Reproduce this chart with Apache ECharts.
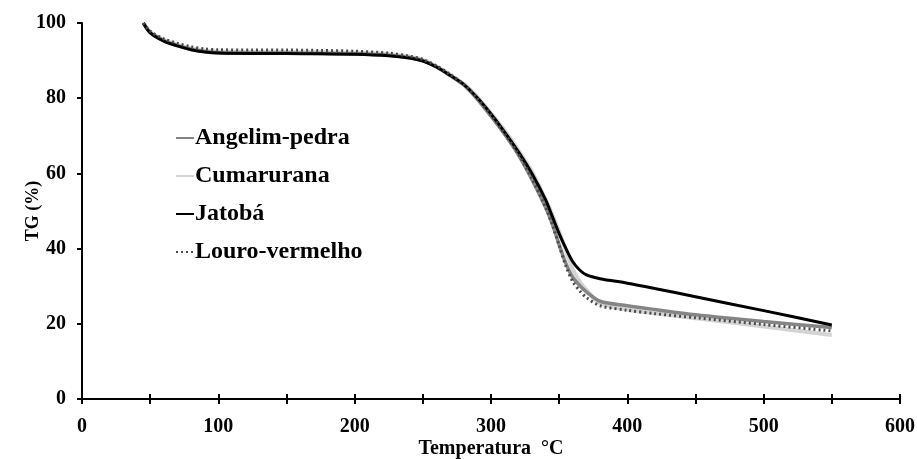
<!DOCTYPE html>
<html>
<head>
<meta charset="utf-8">
<script src="https://cdn.jsdelivr.net/npm/echarts@6/dist/echarts.min.js"></script>
<style>
  html, body { margin: 0; padding: 0; background: #fff; }
  #main { width: 917px; height: 459px; }
</style>
</head>
<body>
<div id="main"></div>
<script>
var temps = [45, 50, 60, 70, 80, 90, 100, 125, 150, 175, 200, 225, 240, 250, 260, 270, 280, 290, 300, 310, 320, 330, 340, 345, 350, 355, 360, 365, 370, 380, 400, 420, 450, 500, 550];

// TG (%) per wood
var angelim = [100, 97.5, 95.3, 94, 93, 92.4, 92.1, 92, 92, 91.9, 91.8, 91.4, 90.8, 90, 88.3, 86, 83.5, 79.7, 75.2, 70.4, 65, 58.4, 51, 46.5, 41, 36, 32.3, 30.2, 28.5, 26, 24.8, 23.8, 22.4, 20.6, 19];
var cumarurana = [100, 97.6, 95.5, 94.2, 93.2, 92.6, 92.4, 92.3, 92.3, 92.2, 92.1, 91.7, 91, 90.2, 88.5, 86.3, 83.8, 80.3, 76, 71.4, 66.2, 60.5, 53, 49, 44.5, 39.5, 34.5, 31.3, 29, 25.5, 23.8, 22.8, 21.5, 19.3, 17];
var jatoba = [100, 97.4, 95.2, 93.9, 92.9, 92.3, 92, 91.9, 91.9, 91.8, 91.7, 91.3, 90.7, 89.9, 88.3, 86.1, 83.7, 80.1, 75.8, 71, 65.8, 60, 53, 48.5, 44, 40, 36.5, 34.3, 33, 32, 30.8, 29.4, 27.2, 23.5, 19.7];
var louro = [100, 97.8, 95.8, 94.6, 93.7, 93.1, 92.9, 92.8, 92.8, 92.7, 92.5, 92, 91.2, 90.3, 88.6, 86.3, 83.7, 80, 75.5, 70.6, 65.2, 58.6, 51, 46.3, 40.8, 35.3, 31.2, 28.8, 27, 24.8, 23.6, 22.7, 21.6, 19.8, 18.1];

var xTicks = [0, 100, 200, 300, 400, 500, 600];

function pairs(vals) {
  return temps.map(function (t, i) { return [t, vals[i]]; });
}

var font = '"Liberation Serif", "Times New Roman", serif';
var chart = echarts.init(document.getElementById('main'));

function mkSeries(name, vals, color, width, type) {
  return {
    name: name,
    type: 'line',
    data: pairs(vals),
    smooth: 0.3,
    symbol: 'none',
    lineStyle: { color: color, width: width, type: type || 'solid' },
    itemStyle: { color: color }
  };
}

var option = {
  backgroundColor: '#fff',
  animation: false,
  grid: { left: 82, right: 17, top: 23, bottom: 60, outerBoundsMode: 'none', containLabel: false },
  legend: {
    orient: 'vertical',
    left: 170,
    top: 121,
    itemWidth: 18,
    itemHeight: 14,
    itemGap: 14,
    itemStyle: { opacity: 0 },
    textStyle: { fontFamily: font, fontWeight: 'bold', fontSize: 24, color: '#000', padding: [0, 0, 0, -4] },
    data: ['Angelim-pedra', 'Cumarurana', 'Jatobá', 'Louro-vermelho']
  },
  xAxis: [{
    type: 'value',
    min: 0, max: 600, interval: 50,
    name: 'Temperatura  °C',
    nameLocation: 'middle',
    nameGap: 40,
    nameMoveOverlap: false,
    nameTextStyle: { fontFamily: font, fontWeight: 'bold', fontSize: 20, color: '#000' },
    splitLine: { show: false },
    axisLine: { lineStyle: { color: '#000', width: 2 } },
    axisTick: { length: 5, lineStyle: { color: '#000', width: 2 } },
    axisLabel: {
      margin: 18,
      fontFamily: font, fontWeight: 'bold', fontSize: 20, color: '#000',
      formatter: function (v) { return xTicks.indexOf(v) >= 0 ? String(v) : ''; }
    }
  }, {
    type: 'value',
    min: 0, max: 600, interval: 50,
    position: 'bottom',
    splitLine: { show: false },
    axisLine: { show: false },
    axisTick: { inside: true, length: 5, lineStyle: { color: '#000', width: 2 } },
    axisLabel: { show: false }
  }],
  yAxis: {
    type: 'value',
    min: 0, max: 100, interval: 20,
    name: 'TG (%)',
    nameLocation: 'middle',
    nameGap: 40,
    nameMoveOverlap: false,
    nameTextStyle: { fontFamily: font, fontWeight: 'bold', fontSize: 18, color: '#000' },
    splitLine: { show: false },
    axisLine: { show: true, lineStyle: { color: '#000', width: 2 } },
    axisTick: { show: true, length: 5, lineStyle: { color: '#000', width: 2 } },
    axisLabel: { margin: 16, fontFamily: font, fontWeight: 'bold', fontSize: 20, color: '#000' }
  },
  series: [
    mkSeries('Cumarurana', cumarurana, '#d4d4d4', 4),
    mkSeries('Angelim-pedra', angelim, '#858585', 3.5),
    mkSeries('Jatobá', jatoba, '#000000', 3),
    mkSeries('Louro-vermelho', louro, '#4a4a4a', 3, [2, 3])
  ]
};

chart.setOption(option);
</script>
</body>
</html>
